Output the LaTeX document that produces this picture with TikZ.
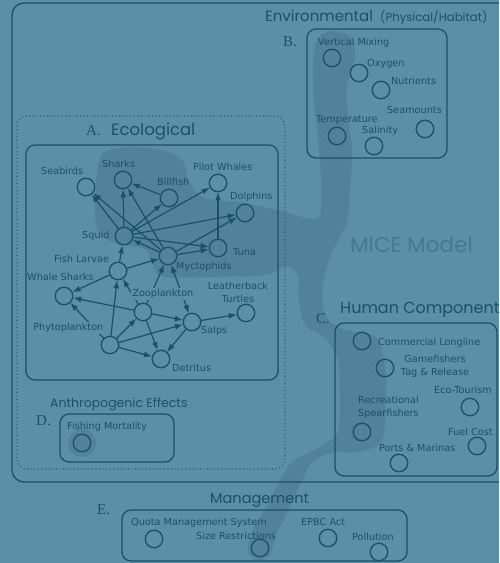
\documentclass[tikz,border=0pt]{standalone}
\usepackage{fontspec}
\setmainfont{DejaVu Sans}
\newfontfamily\headfont{Poppins}
\newfontfamily\letterfont{Liberation Serif}
\usetikzlibrary{arrows.meta}
\definecolor{bgc}{HTML}{5B8FA5}
\definecolor{shadec}{HTML}{50839A}
\definecolor{linec}{HTML}{1B5069}
\definecolor{textc}{HTML}{1B5069}
\definecolor{micec}{HTML}{46798F}
\begin{document}
\begin{tikzpicture}[x=1pt,y=-1pt,
  ob/.style={circle,draw=linec,line width=1.3pt,minimum size=17.5pt,inner sep=0pt},
  lbl/.style={inner sep=0pt,anchor=base west,font=\fontsize{9.7}{13}\selectfont,text=textc},
  clbl/.style={inner sep=0pt,anchor=center,align=center,font=\fontsize{9.7}{13}\selectfont,text=textc},
  arr/.style={draw=linec,line width=1.2pt,-{Latex[length=8pt,width=6pt]}},
  darr/.style={draw=linec,line width=1.2pt,{Latex[length=8pt,width=6pt]}-{Latex[length=8pt,width=6pt]}},
  frame/.style={draw=linec,line width=1.3pt,rounded corners=9pt},
  head/.style={inner sep=0pt,anchor=base west,text=textc},
  letter/.style={inner sep=0pt,anchor=base west,text=textc,font=\letterfont\fontsize{15}{17}\selectfont},
  hide/.style={fill=bgc,inner sep=1.2pt}
]
\useasboundingbox (0,0) rectangle (499,563);
\clip (0,0) rectangle (499,563);
\fill[bgc] (0,0) rectangle (499,563);

% shaded band
\fill[shadec] plot[smooth cycle, tension=0.5] coordinates {
 (333,31) (352,38) (355,58) (347,85) (348,115) (352,150) (350,190) (347,222)
 (337,242) (327,265) (322,295) (327,318) (345,330) (375,336) (384,360) (386,400)
 (382,440) (360,452) (335,452) (312,462) (300,485) (288,510) (276,535) (270,555)
 (258,561) (248,552) (252,532) (266,508) (279,482) (292,462) (318,448) (338,432)
 (340,395) (338,360) (325,338) (305,325) (299,300) (298,275) (285,266) (265,275)
 (200,277) (160,276) (152,262) (145,249) (115,243) (98,232) (95,205) (97,172)
 (103,153) (128,147) (162,150) (182,160) (190,183) (205,198) (245,203) (285,212)
 (318,218) (321,180) (318,140) (314,100) (313,62) (318,38)};
\fill[shadec] (82,443) circle (14);

% frames
\draw[frame,rounded corners=12pt] (12,3) rectangle (530,482);
\draw[linec,line width=1.4pt,line cap=round,dash pattern=on 0pt off 3.6pt,rounded corners=10pt] (17,116) rectangle (285,469);
\draw[frame] (26,145) rectangle (278,380);
\draw[frame] (307,29) rectangle (447,158);
\draw[frame] (335,323) rectangle (497,476);
\draw[frame] (60,414) rectangle (174,462);
\draw[frame] (122,510) rectangle (407,561);

% headings
\node[head,font=\headfont\fontsize{15}{18}\selectfont] (envh) at (265,21) {Environmental};
\node[head,font=\headfont\fontsize{11.7}{13}\selectfont] (physh) at (380,21) {(Physical/Habitat)};
\node[letter] (bl) at (283,46) {B.};
\node[letter] (al) at (86,135) {A.};
\node[head,font=\headfont\fontsize{16.5}{19}\selectfont] (ecoh) at (111,135) {Ecological};
\node[head,font=\headfont\fontsize{16}{19}\selectfont] (humh) at (340,313) {Human Component};
\node[letter] (cl) at (316,323) {C.};
\node[head,font=\headfont\fontsize{12.5}{15}\selectfont] (anth) at (50,407) {Anthropogenic Effects};
\node[letter] (dl) at (36,425) {D.};
\node[head,font=\headfont\fontsize{14.5}{17}\selectfont] (manh) at (210,503) {Management};
\node[letter] (el) at (97,514) {E.};
\node[head,text=micec,font=\headfont\fontsize{21.5}{24}\selectfont] (mice) at (350,252) {MICE Model};

% circles
\foreach \n/\x/\y in {vm/332/58, ox/359/73, nu/381/90, sm/425/129, te/337/136, sa/374/146,
  seab/86/187, shar/123/180, bill/169/198, pilot/218/183, dolph/245/213, squid/124/236,
  tuna/218/248, myct/168/256, larv/118/271, whale/64/296, zoo/143/312, turt/246/313,
  salps/192/322, phyto/110/345, detr/161/359,
  comm/362/341, game/385/368, eco/470/407, rec/362/432, fuel/477/446, ports/399/463,
  fish/82/443, quota/154/539, size/260/548, epbc/328/538, poll/379/552}
  {\node[ob] (\n) at (\x,\y) {};}

% edges
\foreach \a/\b in {squid/seab, myct/seab, squid/shar, myct/shar, bill/shar, squid/bill,
  squid/pilot, tuna/pilot, squid/dolph, myct/dolph, squid/tuna, myct/tuna, myct/squid,
  larv/squid, larv/myct, larv/whale, zoo/myct, zoo/whale, phyto/whale, phyto/larv,
  phyto/zoo, phyto/salps, phyto/detr, zoo/salps, zoo/detr, salps/detr, salps/turt, zoo/larv}
  {\draw[arr] (\a) -- (\b);}
\draw[darr] (myct) -- (salps);

% labels B
\node[lbl] (tvm) at (318,45.5) {Vertical Mixing};
\node[lbl] (tox) at (367,66.5) {Oxygen};
\node[lbl] (tnu) at (391,84.5) {Nutrients};
\node[lbl] (tsm) at (387,113.5) {Seamounts};
\node[lbl] (tte) at (316,122.5) {Temperature};
\node[lbl] (tsa) at (362,133.5) {Salinity};
% labels A
\node[lbl] (tseab) at (41,174.5) {Seabirds};
\node[lbl] (tshar) at (102,167.5) {Sharks};
\node[lbl] (tbill) at (157,185.5) {Billfish};
\node[lbl] (tpilot) at (193,170.5) {Pilot Whales};
\node[lbl] (tdolph) at (230,199.5) {Dolphins};
\node[lbl] (tsquid) at (82,238.5) {Squid};
\node[lbl] (ttuna) at (233,255.5) {Tuna};
\node[lbl] (tmyct) at (176,269.5) {Myctophids};
\node[lbl] (tlarv) at (54,262.5) {Fish Larvae};
\node[lbl] (twhale) at (27,280.5) {Whale Sharks};
\node[lbl,hide] (tzoo) at (131,296.5) {Zooplankton};
\node[clbl] (tturt) at (238,292) {Leatherback\\Turtles};
\node[lbl] (tsalps) at (201,333.5) {Salps};
\node[lbl,hide] (tphyto) at (32,330.5) {Phytoplankton};
\node[lbl] (tdetr) at (172,371.5) {Detritus};
% labels C
\node[lbl] (tcomm) at (378,345.5) {Commercial Longline};
\node[clbl] (tgame) at (435,366) {Gamefishers\\Tag \& Release};
\node[lbl] (teco) at (434,393.5) {Eco-Tourism};
\node[lbl,anchor=west,align=left] (trec) at (358,407) {Recreational\\Spearfishers};
\node[lbl] (tfuel) at (448,435.5) {Fuel Cost};
\node[lbl] (tports) at (379,451.5) {Ports \& Marinas};
% label D
\node[lbl] (tfish) at (67,429.5) {Fishing Mortality};
% labels E
\node[lbl] (tquota) at (131,525.5) {Quota Management System};
\node[lbl] (tsize) at (196,539.5) {Size Restrictions};
\node[lbl] (tepbc) at (301,525.5) {EPBC Act};
\node[lbl] (tpoll) at (352,540.5) {Pollution};
\end{tikzpicture}
\end{document}
